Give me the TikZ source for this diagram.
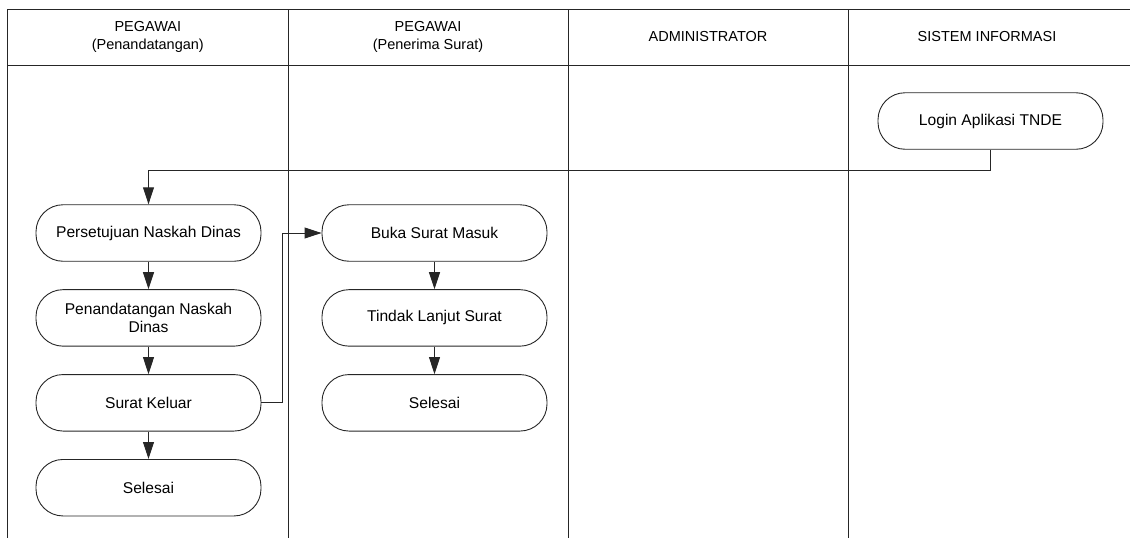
\documentclass[tikz,border=0pt]{standalone}
\usepackage{fontspec}
\setmainfont{Liberation Sans}
\usetikzlibrary{arrows.meta,positioning}

\begin{document}
\begin{tikzpicture}[x=1pt,y=-1pt,
    garis/.style={line width=0.9pt, draw=black!85},
    judul/.style={align=center, font=\fontsize{14.5}{17.3}\selectfont},
    proses/.style={garis, rounded corners=27pt, minimum width=225pt, minimum height=56.5pt, inner sep=0pt, align=center, font=\fontsize{15.6}{18.5}\selectfont},
    panah/.style={garis, -{Triangle[length=17pt,width=11pt]}}]
    \useasboundingbox (0,0) rectangle (1130,538);

    % Draw swimlanes
    \draw[garis] (7.5,538) -- (7.5,9.3) -- (1130,9.3);
    \draw[garis] (7.5,65) -- (1130,65);
    \foreach \x in {288,568,848} \draw[garis] (\x,9.3) -- (\x,538);

    % Add lane titles
    \node[judul] (pnd) at (147.8,37) {PEGAWAI\\(Penandatangan)};
    \node[judul] (pnr) at (428,37) {PEGAWAI\\(Penerima Surat)};
    \node[judul] (adm) at (708,37) {ADMINISTRATOR};
    \node[judul] (sis) at (987,37) {SISTEM INFORMASI};

    % Draw steps
    \node[proses] (login) at (990.5,121) {Login Aplikasi TNDE};
    \node[proses] (setuju) at (148.5,233) {Persetujuan Naskah Dinas};
    \node[proses, below=27.5pt of setuju] (ttd) {Penandatangan Naskah\\Dinas};
    \node[proses, below=27.5pt of ttd] (keluar) {Surat Keluar};
    \node[proses, below=27.5pt of keluar] (selesai1) {Selesai};
    \node[proses] (buka) at (434.5,233) {Buka Surat Masuk};
    \node[proses, below=27.5pt of buka] (tindak) {Tindak Lanjut Surat};
    \node[proses, below=27.5pt of tindak] (selesai2) {Selesai};

    % Draw arrows
    \draw[panah] (login.south) -- ++(0,20.5) -| (setuju.north);
    \draw[panah] (setuju) -- (ttd);
    \draw[panah] (ttd) -- (keluar);
    \draw[panah] (keluar) -- (selesai1);
    \draw[panah] (keluar.east) -- ++(20.5,0) |- (buka.west);
    \draw[panah] (buka) -- (tindak);
    \draw[panah] (tindak) -- (selesai2);
\end{tikzpicture}
\end{document}
